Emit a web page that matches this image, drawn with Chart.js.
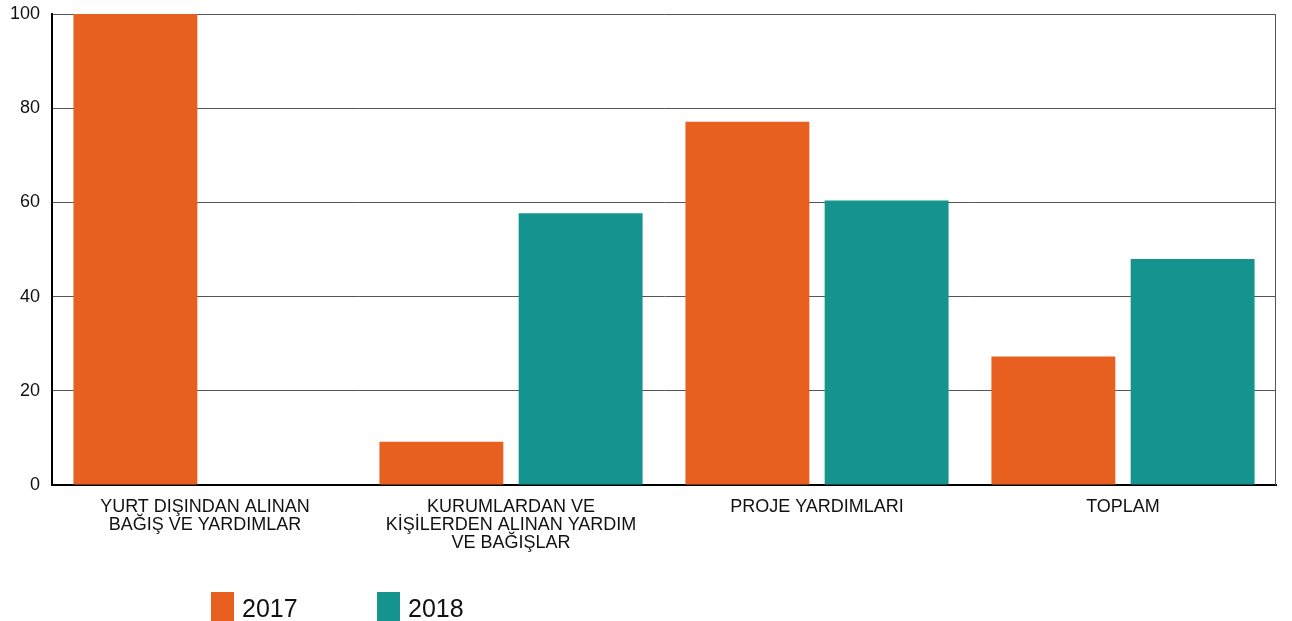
<!DOCTYPE html>
<html>
<head>
<meta charset="utf-8">
<script src="https://cdn.jsdelivr.net/npm/chart.js@4"></script>
<style>
  html, body { margin: 0; padding: 0; background: #fff; }
  #wrap { width: 1292px; height: 621px; }
</style>
</head>
<body>
<div id="wrap"><canvas id="chart"></canvas></div>
<script>
const categories = [
  ['YURT DIŞINDAN ALINAN', 'BAĞIŞ VE YARDIMLAR'],
  ['KURUMLARDAN VE', 'KİŞİLERDEN ALINAN YARDIM', 'VE BAĞIŞLAR'],
  'PROJE YARDIMLARI',
  'TOPLAM'
];
const years = ['2017', '2018'];
const values2017 = [100, 9.2, 77.1, 27.3];
const values2018 = [0, 57.7, 60.4, 48.0];
const yTicks = [0, 20, 40, 60, 80, 100];

const colors = ['#E8601F', '#15938F'];
const font = "'Liberation Sans', Arial, sans-serif";

// legend drawn by hand, the built-in one puts too much vertical padding
const legendBoxes = {
  id: 'legendBoxes',
  afterDraw(chart) {
    const ctx = chart.ctx;
    const xs = [211, 377];
    ctx.save();
    chart.data.datasets.forEach((ds, i) => {
      ctx.fillStyle = ds.backgroundColor;
      ctx.fillRect(xs[i], 592, 23, 29);
      ctx.fillStyle = '#111';
      ctx.font = '25px ' + font;
      ctx.textBaseline = 'alphabetic';
      ctx.fillText(ds.label, xs[i] + 31, 617);
    });
    ctx.restore();
  }
};

const rightBorder = {
  id: 'rightBorder',
  afterDatasetsDraw(chart) {
    const {ctx, chartArea} = chart;
    ctx.save();
    ctx.strokeStyle = '#555';
    ctx.lineWidth = 1;
    ctx.beginPath();
    ctx.moveTo(chartArea.right - 0.5, chartArea.top);
    ctx.lineTo(chartArea.right - 0.5, chartArea.bottom);
    ctx.stroke();
    ctx.restore();
  }
};

function chart() {
  const ctx = document.querySelector('#chart').getContext('2d');

  new Chart(ctx, {
    type: 'bar',
    data: {
      labels: categories,
      datasets: [{
        label: years[0],
        data: values2017,
        backgroundColor: colors[0],
      }, {
        label: years[1],
        data: values2018,
        backgroundColor: colors[1],
      }]
    },
    options: {
      responsive: true,
      maintainAspectRatio: false,
      animation: false,
      categoryPercentage: 0.91,
      barPercentage: 0.89,
      layout: {
        padding: { top: 14, right: 16, left: 0, bottom: 0 }
      },
      plugins: {
        legend: { display: false },
        tooltip: { enabled: false }
      },
      scales: {
        x: {
          grid: { display: false, drawTicks: false },
          border: { display: true, color: '#000', width: 2 },
          ticks: {
            color: '#111',
            padding: 13,
            maxRotation: 0,
            autoSkip: false,
            font: { family: font, size: 18, lineHeight: 1.0 }
          },
          afterFit(scale) { scale.height = 136; }
        },
        y: {
          min: 0,
          max: 100,
          afterBuildTicks(scale) {
            scale.ticks = yTicks.map(v => ({ value: v }));
          },
          grid: { color: '#555', lineWidth: 1, drawTicks: false },
          border: { display: true, color: '#000', width: 2 },
          ticks: {
            color: '#111',
            padding: 12,
            font: { family: font, size: 18 }
          },
          afterFit(scale) {
            scale.width = 52;
            scale.paddingTop = 0;
            scale.paddingBottom = 0;
          }
        }
      }
    },
    plugins: [legendBoxes, rightBorder]
  });
}
chart();
</script>
</body>
</html>
